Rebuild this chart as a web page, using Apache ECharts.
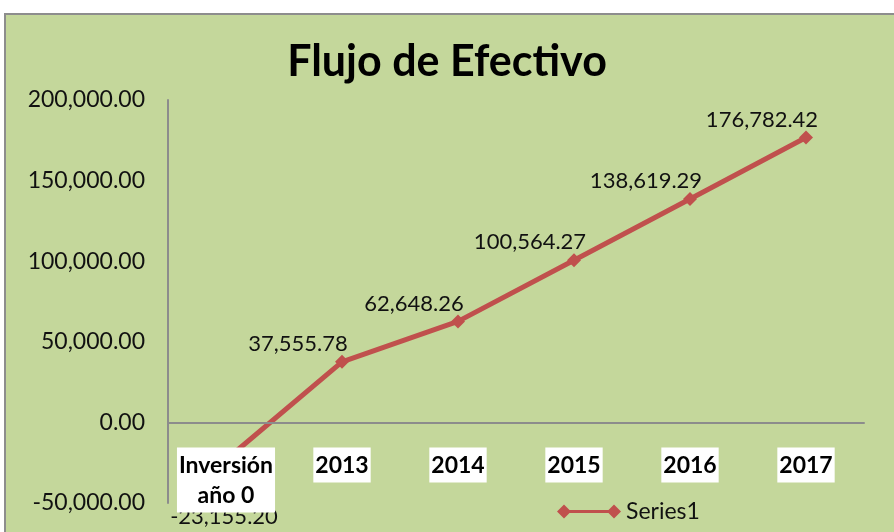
<!DOCTYPE html>
<html>
<head>
<meta charset="utf-8">
<style>
html,body{margin:0;padding:0;background:#fff;}
#main{width:894px;height:532px;}
</style>
<script src="https://cdn.jsdelivr.net/npm/echarts@6/dist/echarts.min.js"></script>
</head>
<body>
<div id="main"></div>
<script>
var categories = ['Inversión\naño 0', '2013', '2014', '2015', '2016', '2017'];
var values = [-23155.20, 37555.78, 62648.26, 100564.27, 138619.29, 176782.42];
var yTicks = [-50000, 0, 50000, 100000, 150000, 200000];
var seriesName = 'Series1';
var titleText = 'Flujo de Efectivo';

function fmt(v) {
  return v.toLocaleString('en-US', {minimumFractionDigits: 2, maximumFractionDigits: 2});
}

var FONT = 'Lato';
var H = 532, GRID_TOP = 100, GRID_BOTTOM = 29;
var yMin = yTicks[0], yMax = yTicks[yTicks.length - 1];
var gridH = H - GRID_TOP - GRID_BOTTOM;
var zeroOffset = -(0 - yMin) / (yMax - yMin) * gridH;

var chart = echarts.init(document.getElementById('main'));
chart.setOption({
  backgroundColor: '#ffffff',
  animation: false,
  graphic: [{
    type: 'rect', z: -10, silent: true,
    shape: {x: 5, y: 14, width: 1000, height: 600},
    style: {fill: '#c4d79b', stroke: '#8d8d8d', lineWidth: 2}
  }],
  title: {
    text: titleText, left: 'center', top: 36,
    textStyle: {fontFamily: FONT, fontSize: 43, fontWeight: 'bold', color: '#000'}
  },
  legend: {
    data: [seriesName],
    left: 552, top: 495,
    itemWidth: 64, itemHeight: 14,
    icon: 'path://M0,7 L7,0 L14,7 L7,14 Z M7,5.5 H57 V8.5 H7 Z M50,7 L57,0 L64,7 L57,14 Z',
    textStyle: {fontFamily: FONT, fontSize: 23, color: '#111'}
  },
  grid: {left: 168, right: 30, top: GRID_TOP, bottom: GRID_BOTTOM, containLabel: false, outerBoundsMode: 'none'},
  xAxis: {
    type: 'category',
    data: categories,
    position: 'bottom',
    offset: zeroOffset,
    z: 5,
    axisLine: {onZero: false, lineStyle: {color: '#8c8c8c', width: 2}},
    axisTick: {show: false},
    axisLabel: {
      interval: 0, hideOverlap: false,
      margin: 25, fontFamily: FONT, fontSize: 23, fontWeight: 'bold', color: '#000',
      backgroundColor: '#ffffff', padding: [3, 2, 2, 2], lineHeight: 30
    }
  },
  yAxis: {
    type: 'value', min: yMin, max: yMax, interval: 50000,
    axisLine: {show: true, lineStyle: {color: '#8c8c8c', width: 2}},
    axisTick: {show: false},
    splitLine: {show: false},
    axisLabel: {
      margin: 23, fontFamily: FONT, fontSize: 23, color: '#111',
      formatter: function (v) { return fmt(v); }
    }
  },
  series: [{
    name: seriesName,
    type: 'line',
    data: values.map(function (v) {
      return {
        value: v,
        label: v < 0 ? {offset: [-2, 57]} : {offset: [-44, -18]}
      };
    }),
    z: 2,
    symbol: 'diamond',
    symbolSize: 14,
    lineStyle: {color: '#c0504d', width: 5},
    itemStyle: {color: '#c0504d'},
    label: {
      show: true, position: 'inside',
      fontFamily: FONT, fontSize: 22, color: '#111',
      formatter: function (p) { return fmt(p.value); }
    }
  }]
});
</script>
</body>
</html>
